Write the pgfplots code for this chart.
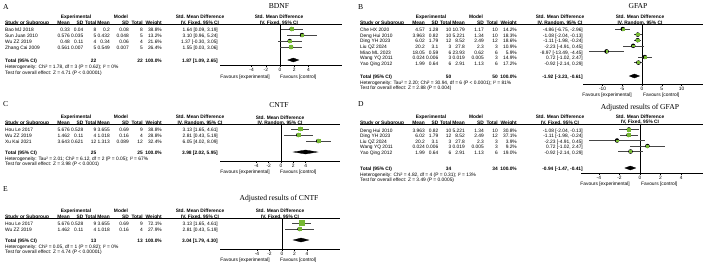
\documentclass[border=0pt]{standalone}
\usepackage{fontspec}
\setmainfont{Liberation Sans}
\newfontfamily\seriffont{Liberation Serif}
\usepackage{pgfplots}
\usepackage{pgfplotstable}
\pgfplotsset{compat=1.18}
\definecolor{sqgreen}{RGB}{118,184,52}
\definecolor{cigray}{RGB}{70,70,70}
\newcommand\tf{\fontsize{4.85}{5}\selectfont}
\newcommand\ttl{\seriffont\fontsize{7.6}{8}\selectfont}
\tikzset{
 L/.style={anchor=mid west,inner sep=0pt,font=\tf},
 R/.style={anchor=mid east,inner sep=0pt,font=\tf},
 C/.style={anchor=mid,inner sep=0pt,font=\tf},
 BL/.style={anchor=mid west,inner sep=0pt,font=\tf\bfseries},
 BR/.style={anchor=mid east,inner sep=0pt,font=\tf\bfseries},
 BC/.style={anchor=mid,inner sep=0pt,font=\tf\bfseries},
 TT/.style={anchor=mid,inner sep=0pt,font=\ttl},
}
\pgfplotsset{
 fp/.style={scale only axis, anchor=south west, hide y axis, axis x line*=bottom,
   axis line style={-,line width=0.45pt}, major tick length=1.6pt, tick align=outside,
   xtick style={line width=0.45pt,black}, ticklabel style={font=\tf}, xticklabel style={inner sep=1pt},
   clip=false},
 ci/.style={only marks, mark=none, forget plot, error bars/.cd, x dir=both, x explicit, error mark=none, error bar style={cigray,line width=0.5pt}},
 sq/.style={scatter, only marks, mark=square*, visualization depends on={\thisrow{w}\as\wt},
   scatter/use mapped color={draw=sqgreen,fill=sqgreen},
   scatter/@pre marker code/.append style={/tikz/mark size=0.55+\wt/34}},
 dm/.style={fill=black, draw=black, line width=0.3pt},
}
\def\cix{218}\def\cic{200}
\newcommand\drow[9]{%
 \node[L] at (5,-#1) {#2};
 \node[R] at (70,-#1) {#3};
 \node[R] at (83.5,-#1) {#4};
 \node[R] at (96.5,-#1) {#5};
 \node[R] at (110,-#1) {#6};
 \node[R] at (129,-#1) {#7};
 \node[R] at (143,-#1) {#8};
 \node[R] at (162,-#1) {#9\%};}
\newcommand\cirow[2]{\node[R] at (\cix,-#1) {#2};}
\newcommand\hdr[3]{%
 \node[BC] at (76,-#1) {Experimental};
 \node[BC] at (121,-#1) {Model};
 \node[BC] at (\cic,-#1) {Std. Mean Difference};
 \node[BL] at (5,-#2) {Study or Subgroup};
 \node[BR] at (70,-#2) {Mean};
 \node[BR] at (83.5,-#2) {SD};
 \node[BR] at (96.5,-#2) {Total};
 \node[BR] at (110,-#2) {Mean};
 \node[BR] at (129,-#2) {SD};
 \node[BR] at (143,-#2) {Total};
 \node[BR] at (162,-#2) {Weight};
 \node[BC] at (\cic,-#2) {#3};}
\newcommand\totrow[4]{%
 \node[BL] at (5,-#1) {Total (95\% CI)};
 \node[BR] at (96.5,-#1) {#2};
 \node[BR] at (143,-#1) {#3};
 \node[BR] at (162,-#1) {100.0\%};
 \node[BR] at (\cix,-#1) {#4};}

% ---------- data: y (layout row), est, lo, hi, weight ----------
\pgfplotstableread{
y est lo hi w
-29 1.64 0.09 3.19 38.8
-35 3.10 0.96 5.24 13.2
-41 1.37 -0.30 3.05 21.6
-47 1.55 0.03 3.06 26.4
}\tA
\pgfplotstableread{
y est lo hi w
-29 -4.86 -6.75 -2.96 14.2
-34.6 -1.08 -2.04 -0.13 18.3
-40.2 -1.11 -1.98 -0.24 18.6
-45.8 -2.23 -4.91 0.45 10.9
-51.4 -8.97 -13.49 -4.45 5.9
-57 0.72 -1.02 2.47 14.9
-62.6 -0.92 -2.14 0.29 17.2
}\tB
\pgfplotstableread{
y est lo hi w
-129 3.13 1.65 4.61 38.8
-135 2.81 0.43 5.19 28.8
-141 6.05 4.02 8.09 32.4
}\tC
\pgfplotstableread{
y est lo hi w
-129.5 -1.08 -2.04 -0.13 30.8
-135 -1.11 -1.98 -0.24 37.1
-140.5 -2.23 -4.91 0.45 3.9
-146 0.72 -1.02 2.47 9.2
-151.5 -0.92 -2.14 0.29 19.0
}\tD
\pgfplotstableread{
y est lo hi w
-223 3.13 1.65 4.61 72.1
-229 2.81 0.43 5.19 27.9
}\tE

\begin{document}
\begin{tikzpicture}[x=1pt,y=1pt]
\useasboundingbox (0,0) rectangle (708,-266);

% ================= A =================
\node[TT,anchor=mid west] at (3,-7) {A};
\node[TT] at (279,-6) {BDNF};
\hdr{16}{22}{IV, Fixed, 95\% CI}
\draw[line width=0.45pt] (5,-24.5) -- (342,-24.5);
\drow{29}{Bao MJ 2018}{0.33}{0.04}{8}{0.2}{0.08}{8}{38.8}\cirow{29}{1.64 [0.09, 3.19]}
\drow{35}{Sun Juan 2010}{0.576}{0.035}{5}{0.432}{0.048}{5}{13.2}\cirow{35}{3.10 [0.96, 5.24]}
\drow{41}{Wu ZZ 2019}{0.48}{0.11}{4}{0.34}{0.06}{4}{21.6}\cirow{41}{1.37 [-0.30, 3.05]}
\drow{47}{Zhang Cai 2009}{0.561}{0.007}{5}{0.549}{0.007}{5}{26.4}\cirow{47}{1.55 [0.03, 3.06]}
\totrow{60}{22}{22}{1.87 [1.09, 2.65]}
\node[L] at (5,-66) {Heterogeneity: Chi² = 1.78, df = 3 (P = 0.62); I² = 0\%};
\node[L] at (5,-72) {Test for overall effect: Z = 4.71 (P < 0.00001)};
\node[BC] at (279,-16) {Std. Mean Difference};
\node[BC] at (279,-22) {IV, Fixed, 95\% CI};
\node[R] at (270,-76) {Favours [experimental]};
\node[L] at (280,-76) {Favours [control]};
\begin{axis}[fp, at={(220pt,-65pt)}, width=122pt, height=40.5pt, xmin=-8.45, xmax=8.73, ymin=-65, ymax=-24.5,
  xtick={-4,-2,0,2,4}, xticklabels={-4,-2,0,2,4}]
\draw[line width=0.45pt] (axis cs:0,-24.5) -- (axis cs:0,-65);
\addplot[ci] table[x=est,y=y,x error plus expr=\thisrow{hi}-\thisrow{est},x error minus expr=\thisrow{est}-\thisrow{lo}] {\tA};
\addplot[sq] table[x=est,y=y] {\tA};
\addplot[dm] coordinates {(1.09,-60) (1.87,-58) (2.65,-60) (1.87,-62)} -- cycle;
\end{axis}

% ================= C =================
\node[TT,anchor=mid west] at (3,-104) {C};
\node[TT] at (279,-105) {CNTF};
\hdr{116}{121.5}{IV, Random, 95\% CI}
\draw[line width=0.45pt] (5,-124) -- (340,-124);
\drow{129}{Hou Le 2017}{5.676}{0.528}{9}{3.655}{0.69}{9}{38.8}\cirow{129}{3.13 [1.65, 4.61]}
\drow{135}{Wu ZZ 2019}{1.462}{0.11}{4}{1.018}{0.16}{4}{28.8}\cirow{135}{2.81 [0.43, 5.19]}
\drow{141}{Xu Kai 2021}{3.643}{0.621}{12}{1.313}{0.089}{12}{32.4}\cirow{141}{6.05 [4.02, 8.09]}
\totrow{152}{25}{25}{3.98 [2.02, 5.95]}
\node[L] at (5,-157.5) {Heterogeneity: Tau² = 2.01; Chi² = 6.12, df = 2 (P = 0.05); I² = 67\%};
\node[L] at (5,-163) {Test for overall effect: Z = 3.98 (P < 0.0001)};
\node[BC] at (280,-117) {Std. Mean Difference};
\node[BC] at (280,-121.5) {IV, Random, 95\% CI};
\node[R] at (270,-171) {Favours [experimental]};
\node[L] at (280,-171) {Favours [control]};
\begin{axis}[fp, at={(220pt,-161pt)}, width=120pt, height=37pt, xmin=-9.92, xmax=9.59, ymin=-161, ymax=-124,
  xtick={-4,-2,0,2,4}, xticklabels={-4,-2,0,2,4}]
\draw[line width=0.45pt] (axis cs:0,-124) -- (axis cs:0,-161);
\addplot[ci] table[x=est,y=y,x error plus expr=\thisrow{hi}-\thisrow{est},x error minus expr=\thisrow{est}-\thisrow{lo}] {\tC};
\addplot[sq] table[x=est,y=y] {\tC};
\addplot[dm] coordinates {(2.02,-152) (3.98,-150) (5.95,-152) (3.98,-154)} -- cycle;
\end{axis}

% ================= E =================
\node[TT,anchor=mid west] at (3,-189) {E};
\node[TT] at (279,-198) {Adjusted results of CNTF};
\hdr{210}{215.5}{IV, Fixed, 95\% CI}
\draw[line width=0.45pt] (5,-218) -- (340,-218);
\drow{223}{Hou Le 2017}{5.676}{0.528}{9}{3.655}{0.69}{9}{72.1}\cirow{223}{3.13 [1.65, 4.61]}
\drow{229}{Wu ZZ 2019}{1.462}{0.11}{4}{1.018}{0.16}{4}{27.9}\cirow{229}{2.81 [0.43, 5.19]}
\totrow{240}{13}{13}{3.04 [1.79, 4.30]}
\node[L] at (5,-245.5) {Heterogeneity: Chi² = 0.05, df = 1 (P = 0.82); I² = 0\%};
\node[L] at (5,-251) {Test for overall effect: Z = 4.74 (P < 0.00001)};
\node[BC] at (280,-210) {Std. Mean Difference};
\node[BC] at (280,-215.5) {IV, Fixed, 95\% CI};
\node[R] at (270,-258.5) {Favours [experimental]};
\node[L] at (280,-258.5) {Favours [control]};
\begin{axis}[fp, at={(220pt,-249pt)}, width=120pt, height=31pt, xmin=-9.92, xmax=9.28, ymin=-249, ymax=-218,
  xtick={-4,-2,0,2,4}, xticklabels={-4,-2,0,2,4}]
\draw[line width=0.45pt] (axis cs:0,-218) -- (axis cs:0,-249);
\addplot[ci] table[x=est,y=y,x error plus expr=\thisrow{hi}-\thisrow{est},x error minus expr=\thisrow{est}-\thisrow{lo}] {\tE};
\addplot[sq] table[x=est,y=y] {\tE};
\addplot[dm] coordinates {(1.79,-240) (3.04,-238) (4.30,-240) (3.04,-242)} -- cycle;
\end{axis}

% ================= B =================
\begin{scope}[shift={(355,0)}]
\def\cix{228}\def\cic{205}
\node[TT,anchor=mid west] at (3,-7) {B};
\hdr{16}{22}{IV, Random, 95\% CI}
\draw[line width=0.45pt] (5,-24.5) -- (348,-24.5);
\drow{29}{Che HX 2020}{4.57}{1.28}{10}{10.79}{1.17}{10}{14.2}\cirow{29}{-4.86 [-6.75, -2.96]}
\drow{34.6}{Deng Hui 2010}{3.963}{0.82}{10}{5.221}{1.34}{10}{18.3}\cirow{34.6}{-1.08 [-2.04, -0.13]}
\drow{40.2}{Ding YH 2023}{6.02}{1.79}{12}{8.52}{2.49}{12}{18.6}\cirow{40.2}{-1.11 [-1.98, -0.24]}
\drow{45.8}{Liu QZ 2024}{20.2}{3.1}{3}{27.8}{2.3}{3}{10.9}\cirow{45.8}{-2.23 [-4.91, 0.45]}
\drow{51.4}{Miao ML 2023}{18.05}{0.59}{6}{23.93}{0.62}{6}{5.9}\cirow{51.4}{-8.97 [-13.49, -4.45]}
\drow{57}{Wang YQ 2011}{0.024}{0.006}{3}{0.019}{0.005}{3}{14.9}\cirow{57}{0.72 [-1.02, 2.47]}
\drow{62.6}{Yao Qing 2012}{1.99}{0.64}{6}{2.91}{1.13}{6}{17.2}\cirow{62.6}{-0.92 [-2.14, 0.29]}
\totrow{76}{50}{50}{-1.92 [-3.23, -0.61]}
\node[L] at (5,-81.5) {Heterogeneity: Tau² = 2.20; Chi² = 30.94, df = 6 (P < 0.0001); I² = 81\%};
\node[L] at (5,-87) {Test for overall effect: Z = 2.88 (P = 0.004)};
\end{scope}
\node[TT] at (638,-6) {GFAP};
\node[BC] at (640,-16) {Std. Mean Difference};
\node[BC] at (640,-22) {IV, Random, 95\% CI};
\node[R] at (632,-94) {Favours [experimental]};
\node[L] at (643,-94) {Favours [control]};
\begin{axis}[fp, at={(583pt,-84pt)}, width=120pt, height=59.5pt, xmin=-14.94, xmax=15.44, ymin=-84, ymax=-24.5,
  xtick={-10,-5,0,5,10}, xticklabels={-10,-5,0,5,10}]
\draw[line width=0.45pt] (axis cs:0,-24.5) -- (axis cs:0,-84);
\addplot[ci] table[x=est,y=y,x error plus expr=\thisrow{hi}-\thisrow{est},x error minus expr=\thisrow{est}-\thisrow{lo}] {\tB};
\addplot[sq] table[x=est,y=y] {\tB};
\addplot[dm] coordinates {(-3.23,-76) (-1.92,-74) (-0.61,-76) (-1.92,-78)} -- cycle;
\end{axis}

% ================= D =================
\begin{scope}[shift={(355,0)}]
\def\cix{228}\def\cic{205}
\node[TT,anchor=mid west] at (3,-104) {D};
\hdr{116}{121.5}{IV, Fixed, 95\% CI}
\draw[line width=0.45pt] (5,-124) -- (348,-124);
\drow{129.5}{Deng Hui 2010}{3.963}{0.82}{10}{5.221}{1.34}{10}{30.8}\cirow{129.5}{-1.08 [-2.04, -0.13]}
\drow{135}{Ding YH 2023}{6.02}{1.79}{12}{8.52}{2.49}{12}{37.1}\cirow{135}{-1.11 [-1.98, -0.24]}
\drow{140.5}{Liu QZ 2024}{20.2}{3.1}{3}{27.8}{2.3}{3}{3.9}\cirow{140.5}{-2.23 [-4.91, 0.45]}
\drow{146}{Wang YQ 2011}{0.024}{0.006}{3}{0.019}{0.005}{3}{9.2}\cirow{146}{0.72 [-1.02, 2.47]}
\drow{151.5}{Yao Qing 2012}{1.99}{0.64}{6}{2.91}{1.13}{6}{19.0}\cirow{151.5}{-0.92 [-2.14, 0.29]}
\totrow{168}{34}{34}{-0.94 [-1.47, -0.41]}
\node[L] at (5,-173.5) {Heterogeneity: Chi² = 4.82, df = 4 (P = 0.31); I² = 13\%};
\node[L] at (5,-179) {Test for overall effect: Z = 3.49 (P = 0.0005)};
\end{scope}
\node[TT] at (640,-107) {Adjusted results of GFAP};
\node[BC] at (640,-116) {Std. Mean Difference};
\node[BC] at (640,-121) {IV, Fixed, 95\% CI};
\node[R] at (630,-182.5) {Favours [experimental]};
\node[L] at (641,-182.5) {Favours [control]};
\begin{axis}[fp, at={(581pt,-173pt)}, width=122pt, height=49pt, xmin=-5.73, xmax=6.12, ymin=-173, ymax=-124,
  xtick={-4,-2,0,2,4}, xticklabels={-4,-2,0,2,4}]
\draw[line width=0.45pt] (axis cs:0,-124) -- (axis cs:0,-173);
\addplot[ci] table[x=est,y=y,x error plus expr=\thisrow{hi}-\thisrow{est},x error minus expr=\thisrow{est}-\thisrow{lo}] {\tD};
\addplot[sq] table[x=est,y=y] {\tD};
\addplot[dm] coordinates {(-1.47,-168) (-0.94,-166) (-0.41,-168) (-0.94,-170)} -- cycle;
\end{axis}
\end{tikzpicture}
\end{document}
